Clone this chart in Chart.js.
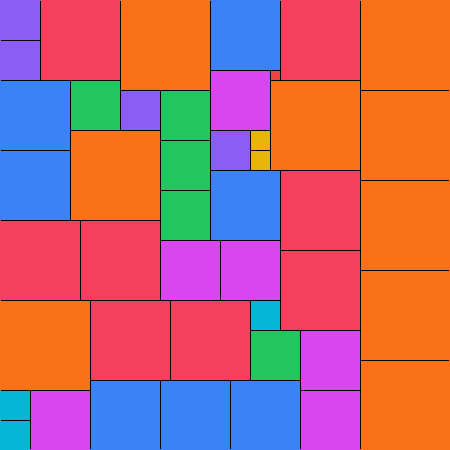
<!DOCTYPE html>
<html>
<head>
<meta charset="utf-8">
<script src="https://cdn.jsdelivr.net/npm/chart.js@4/dist/chart.umd.min.js"></script>
<style>
  html, body { margin: 0; padding: 0; background: #fff; }
  #packChart { display: block; }
</style>
</head>
<body>
<canvas id="packChart" width="450" height="450"></canvas>
<script>
// square packing: left / top corner and side length, in grid units (45 x 45)
var squareX    = [0, 0, 4, 12, 21, 28, 36, 0, 7, 12, 16, 21, 27, 27, 36, 0, 7, 16, 21, 25, 25, 21, 28, 36, 16, 0, 8, 16, 22, 28, 36, 0, 9, 17, 25, 25, 30, 36, 0, 0, 3, 9, 16, 23, 30];
var squareY    = [0, 4, 0, 0, 0, 0, 0, 8, 8, 9, 9, 7, 7, 8, 9, 15, 13, 14, 13, 13, 15, 17, 17, 18, 19, 22, 22, 24, 24, 25, 27, 30, 30, 30, 30, 33, 33, 36, 39, 42, 39, 38, 38, 38, 39];
var squareSize = [4, 4, 8, 9, 7, 8, 9, 7, 5, 4, 5, 6, 1, 9, 9, 7, 9, 5, 4, 2, 2, 7, 8, 9, 5, 8, 8, 6, 6, 8, 9, 9, 8, 8, 3, 5, 6, 9, 3, 3, 6, 7, 7, 7, 6];

// colour by side length
var sizeColours = {
  1: '#ef4444', 2: '#eab308', 3: '#06b6d4', 4: '#8b5cf6', 5: '#22c55e',
  6: '#d946ef', 7: '#3b82f6', 8: '#f43f5e', 9: '#f97316'
};

var points = squareX.map(function (x, i) {
  return { x: x + squareSize[i] / 2, y: squareY[i] + squareSize[i] / 2, s: squareSize[i] };
});

//draws each square through the chart scales
var squaresPlugin = {
  id: 'squares',
  beforeDatasetsDraw: function (chart) {
    var ctx = chart.ctx;
    var xs = chart.scales.x, ys = chart.scales.y;
    var area = chart.chartArea;
    var rects = chart.data.datasets[0].data.map(function (p) {
      var x0 = Math.round(xs.getPixelForValue(p.x - p.s / 2));
      var x1 = Math.round(xs.getPixelForValue(p.x + p.s / 2));
      var y0 = Math.round(ys.getPixelForValue(p.y - p.s / 2));
      var y1 = Math.round(ys.getPixelForValue(p.y + p.s / 2));
      return { x: x0, y: y0, w: x1 - x0, h: y1 - y0, c: sizeColours[p.s] };
    });
    ctx.save();
    rects.forEach(function (r) {
      ctx.fillStyle = r.c;
      ctx.fillRect(r.x, r.y, r.w, r.h);
    });
    // no outline on the outer edge
    ctx.beginPath();
    ctx.rect(area.left + 1, area.top + 1, area.right - area.left - 2, area.bottom - area.top - 2);
    ctx.clip();
    ctx.strokeStyle = '#000';
    ctx.lineWidth = 1;
    rects.forEach(function (r) {
      ctx.strokeRect(r.x + 0.5, r.y + 0.5, r.w, r.h);
    });
    ctx.restore();
  }
};

new Chart(document.getElementById('packChart').getContext('2d'), {
  type: 'scatter',
  data: {
    datasets: [{ data: points, pointRadius: 0, pointHoverRadius: 0 }]
  },
  options: {
    responsive: false,
    animation: false,
    layout: { padding: 0 },
    plugins: { legend: { display: false }, tooltip: { enabled: false } },
    scales: {
      x: { type: 'linear', min: 0, max: 45, display: false },
      y: { type: 'linear', min: 0, max: 45, reverse: true, display: false }
    }
  },
  plugins: [squaresPlugin]
});
</script>
</body>
</html>
